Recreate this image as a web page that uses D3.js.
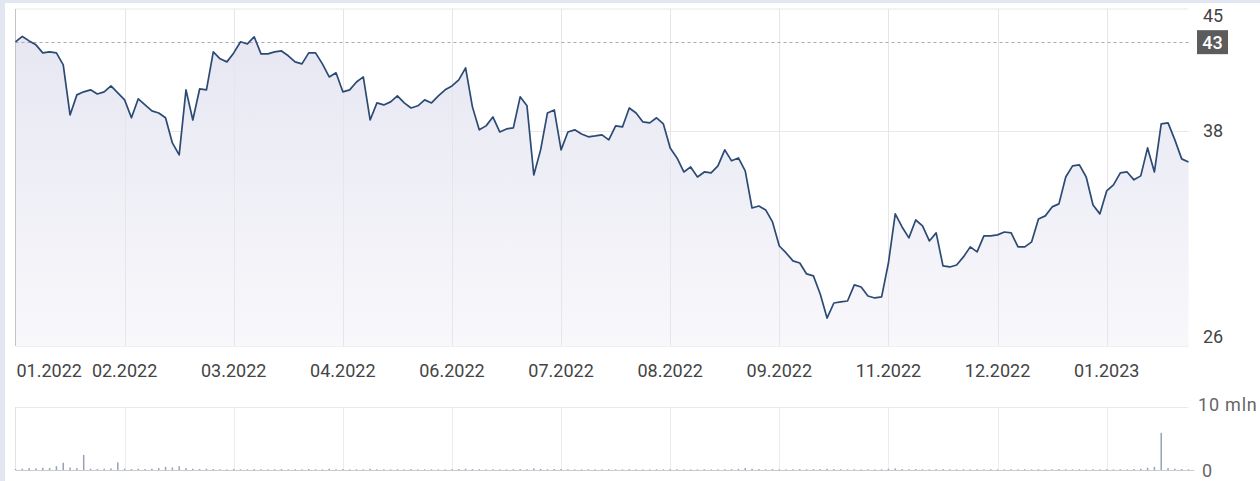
<!DOCTYPE html>
<html>
<head>
<meta charset="utf-8">
<script src="https://cdn.jsdelivr.net/npm/d3@7"></script>
<style>
  html, body { margin: 0; padding: 0; background: #fff; }
  svg { display: block; font-family: Roboto, "Noto Sans", sans-serif; }
</style>
</head>
<body>
<svg id="chart" width="1260" height="481"></svg>
<script>
// Daily closing prices (one point per sampled trading day)
const prices = [
  42.97,43.27,43.02,42.80,42.35,42.41,42.35,41.68,38.89,40.01,
  40.18,40.29,40.06,40.18,40.51,40.12,39.73,38.73,39.79,39.45,
  39.12,39.00,38.73,37.33,36.66,40.29,38.61,40.34,40.29,42.41,
  42.02,41.85,42.35,42.97,42.85,43.25,42.30,42.30,42.41,42.46,
  42.19,41.85,41.74,42.35,42.35,41.74,41.01,41.24,40.18,40.29,
  40.73,41.01,38.61,39.56,39.45,39.62,39.95,39.56,39.28,39.40,
  39.73,39.56,39.95,40.29,40.51,40.85,41.52,39.34,38.06,38.28,
  38.78,37.94,38.11,38.17,39.90,39.40,35.54,36.94,39.00,39.17,
  36.94,37.94,38.06,37.83,37.67,37.72,37.78,37.50,38.28,38.22,
  39.28,39.00,38.50,38.45,38.73,38.39,37.05,36.49,35.71,35.99,
  35.43,35.71,35.66,36.05,36.94,36.33,36.49,35.77,33.70,33.81,
  33.59,32.92,31.58,31.19,30.75,30.63,30.02,29.91,28.90,27.56,
  28.40,28.46,28.51,29.41,29.29,28.79,28.68,28.74,30.63,33.37,
  32.64,32.03,33.03,32.70,31.86,32.31,30.47,30.41,30.52,30.97,
  31.53,31.25,32.14,32.14,32.20,32.36,32.31,31.53,31.53,31.81,
  33.09,33.26,33.76,33.93,35.43,36.05,36.10,35.43,33.87,33.37,
  34.65,34.99,35.66,35.71,35.27,35.49,37.05,35.71,38.39,38.45,
  37.50,36.44,36.27
];

// Traded volume, millions of shares
const volumes = [
  0.15,0.2,0.3,0.25,0.35,0.3,0.6,1.15,0.4,0.3,
  2.4,0.2,0.15,0.2,0.25,1.2,0.2,0.15,0.2,0.15,
  0.2,0.3,0.5,0.4,0.6,0.3,0.2,0.15,0.2,0.15,
  0.12,0.1,0.15,0.12,0.1,0.14,0.12,0.1,0.12,0.15,
  0.1,0.12,0.1,0.15,0.12,0.1,0.2,0.12,0.15,0.1,
  0.12,0.1,0.2,0.12,0.1,0.1,0.12,0.1,0.14,0.1,
  0.1,0.12,0.1,0.1,0.12,0.15,0.2,0.15,0.12,0.1,
  0.12,0.1,0.1,0.12,0.14,0.12,0.25,0.18,0.12,0.15,
  0.15,0.12,0.1,0.1,0.12,0.1,0.1,0.12,0.1,0.1,
  0.12,0.1,0.1,0.1,0.12,0.1,0.14,0.12,0.1,0.1,
  0.1,0.12,0.1,0.1,0.12,0.14,0.18,0.3,0.2,0.15,
  0.12,0.15,0.12,0.1,0.12,0.15,0.12,0.14,0.15,0.2,
  0.15,0.12,0.1,0.12,0.1,0.12,0.1,0.12,0.2,0.25,
  0.15,0.12,0.15,0.12,0.1,0.12,0.14,0.12,0.1,0.12,
  0.1,0.12,0.1,0.12,0.1,0.1,0.12,0.1,0.12,0.1,
  0.12,0.1,0.12,0.14,0.12,0.1,0.12,0.1,0.12,0.1,
  0.12,0.1,0.12,0.1,0.15,0.2,0.35,0.5,5.9,0.3,
  0.2,0.15,0.12
];

// Date axis: gridline every 16 points, labelled with the month of that point
const tickIndex = [0, 16, 32, 48, 64, 80, 96, 112, 128, 144, 160];
const tickLabels = ["01.2022","02.2022","03.2022","04.2022","06.2022","07.2022",
                    "08.2022","09.2022","11.2022","12.2022","01.2023"];

const priceTicks = [26, 38, 45];
const priceGrid = [38];
const refPrice = 42.95;
const refLabel = "43";

const volumeTicks = [0, 10];
const volumeTickLabels = ["0", "10 mln"];

// ---- layout ----
const plotLeft = 15.5, plotRight = 1188.5;
const plotTop = 9, plotBottom = 346;
const volTop = 407, volBottom = 470;

const svg = d3.select("#chart");

const x = d3.scaleLinear().domain([0, prices.length - 1]).range([plotLeft, plotRight]);
const y = d3.scaleLinear().domain([26, 44.8]).range([plotBottom, plotTop]);
const yv = d3.scaleLinear().domain([0, 10]).range([volBottom, volTop]);

// page edge strips
svg.append("rect").attr("x", 0).attr("y", 0).attr("width", 5).attr("height", 481).attr("fill", "#e2e6f0");
svg.append("rect").attr("x", 0).attr("y", 0).attr("width", 1260).attr("height", 3).attr("fill", "#e2e6f0");

// gradient for the area under the price line
const defs = svg.append("defs");
const grad = defs.append("linearGradient").attr("id", "areaFill")
  .attr("x1", 0).attr("y1", 0).attr("x2", 0).attr("y2", 1);
grad.append("stop").attr("offset", "0%").attr("stop-color", "#e6e7f2");
grad.append("stop").attr("offset", "100%").attr("stop-color", "#f8f8fb");

// ---- price panel ----
const grid = svg.append("g");
// frame top and bottom
grid.append("line").attr("x1", plotLeft).attr("x2", plotRight).attr("y1", plotTop).attr("y2", plotTop)
  .attr("stroke", "#e8e8e8");
grid.append("line").attr("x1", plotLeft).attr("x2", plotRight).attr("y1", plotBottom).attr("y2", plotBottom)
  .attr("stroke", "#e0e0e0");
grid.selectAll("line.hgrid").data(priceGrid).join("line").attr("class", "hgrid")
  .attr("x1", plotLeft).attr("x2", plotRight)
  .attr("y1", d => Math.round(y(d)) + 0.5).attr("y2", d => Math.round(y(d)) + 0.5)
  .attr("stroke", "#e8e8e8");

// area + vertical gridlines (drawn over the fill so they stay visible)
svg.append("path").datum(prices)
  .attr("fill", "url(#areaFill)")
  .attr("d", d3.area().x((d, i) => x(i)).y0(plotBottom).y1(d => y(d)));

svg.append("g").selectAll("line").data(tickIndex.slice(1)).join("line")
  .attr("x1", d => Math.round(x(d)) + 0.5).attr("x2", d => Math.round(x(d)) + 0.5)
  .attr("y1", plotTop).attr("y2", plotBottom)
  .attr("stroke", "#e6e6ea");

// left axis line
svg.append("line").attr("x1", plotLeft).attr("x2", plotLeft).attr("y1", plotTop).attr("y2", plotBottom)
  .attr("stroke", "#c4c4c4");

// reference level
svg.append("line").attr("x1", plotLeft).attr("x2", plotRight)
  .attr("y1", Math.round(y(refPrice)) + 0.5).attr("y2", Math.round(y(refPrice)) + 0.5)
  .attr("stroke", "#a9a9a9").attr("stroke-dasharray", "3,3");

// price line
svg.append("path").datum(prices)
  .attr("fill", "none")
  .attr("stroke", "#2c4a73")
  .attr("stroke-width", 1.7)
  .attr("stroke-linejoin", "round")
  .attr("d", d3.line().x((d, i) => x(i)).y(d => y(d)));

// price axis labels (kept inside the panel band)
svg.append("g").selectAll("text").data(priceTicks).join("text")
  .attr("x", 1203)
  .attr("y", d => Math.max(15.5, Math.min(336, y(d))))
  .attr("dominant-baseline", "central")
  .attr("font-size", 18).attr("fill", "#444")
  .text(d => d);

// reference level tag
const tagY = y(refPrice);
svg.append("rect").attr("x", 1197).attr("y", tagY - 12).attr("width", 31).attr("height", 24)
  .attr("fill", "#5c5c5c");
svg.append("text").attr("x", 1212.5).attr("y", tagY + 0.5)
  .attr("text-anchor", "middle").attr("dominant-baseline", "central")
  .attr("font-size", 18).attr("font-weight", 500).attr("fill", "#fff")
  .text(refLabel);

// date labels
svg.append("g").selectAll("text").data(tickIndex).join("text")
  .attr("x", (d, i) => i === 0 ? plotLeft + 1 : x(d))
  .attr("y", 370.5)
  .attr("text-anchor", (d, i) => i === 0 ? "start" : "middle")
  .attr("dominant-baseline", "central")
  .attr("font-size", 18).attr("fill", "#444")
  .text((d, i) => tickLabels[i]);

// ---- volume panel ----
svg.append("line").attr("x1", plotLeft).attr("x2", plotRight).attr("y1", volTop + 0.5).attr("y2", volTop + 0.5)
  .attr("stroke", "#eaeaea");
svg.append("g").selectAll("line").data(tickIndex.slice(1)).join("line")
  .attr("x1", d => Math.round(x(d)) + 0.5).attr("x2", d => Math.round(x(d)) + 0.5)
  .attr("y1", volTop).attr("y2", volBottom)
  .attr("stroke", "#ececec");
svg.append("line").attr("x1", plotLeft).attr("x2", plotLeft).attr("y1", volTop).attr("y2", volBottom)
  .attr("stroke", "#e2e2e2");

svg.append("g").selectAll("rect").data(volumes).join("rect")
  .attr("x", (d, i) => x(i) - 0.75)
  .attr("width", 1.5)
  .attr("y", d => yv(d))
  .attr("height", d => volBottom - yv(d))
  .attr("fill", "#97a3b5");

svg.append("line").attr("x1", plotLeft).attr("x2", plotRight + 6).attr("y1", volBottom + 0.5).attr("y2", volBottom + 0.5)
  .attr("stroke", "#c9ccd3");

svg.append("g").selectAll("text").data(volumeTicks).join("text")
  .attr("x", (d, i) => i === 0 ? 1202 : 1198)
  .attr("y", d => d === 0 ? volBottom : volTop - 3)
  .attr("dominant-baseline", "central")
  .attr("font-size", 18).attr("letter-spacing", 0.8).attr("fill", "#666")
  .text((d, i) => volumeTickLabels[i]);
</script>
</body>
</html>
